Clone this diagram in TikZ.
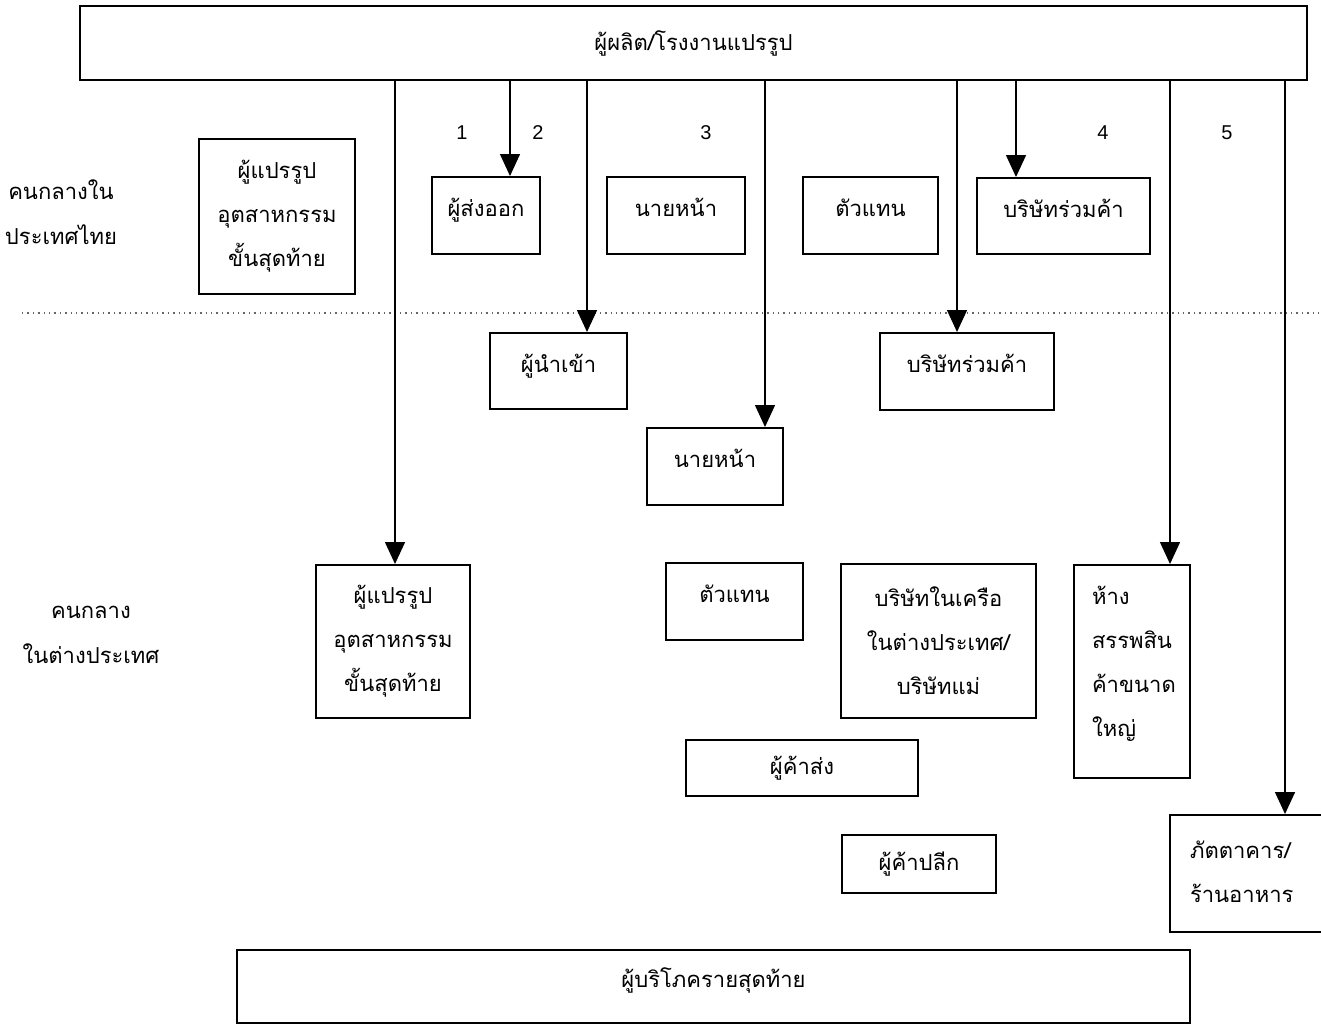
\documentclass[tikz,border=0pt]{standalone}
\usepackage{fontspec}
\setmainfont{Liberation Sans}
\newfontfamily\thaifont[Script=Thai]{Loma}
\usetikzlibrary{arrows.meta}
\begin{document}
\begin{tikzpicture}[x=0.5pt,y=-0.5pt,
  box/.style={draw, line width=1pt, inner sep=0pt, align=center,
    font=\thaifont\fontsize{11}{22}\selectfont},
  hi/.style={text height=8pt, text depth=7pt},
  lbl/.style={inner sep=0pt, align=center, font=\thaifont\fontsize{11}{22.5}\selectfont},
  num/.style={inner sep=0pt, font=\fontsize{10}{12}\selectfont},
  link/.style={line width=0.7pt, -{Triangle[length=11pt,width=10pt]}},
  sep/.style={gray!80!black, dotted, line width=0.7pt}]
\clip (0,0) rectangle (1321,1025);

% producer / processing plant
\node[box, minimum width=613.5pt, minimum height=37pt] (top) at (693.5,43) {ผู้ผลิต/โรงงานแปรรูป};

% intermediaries in Thailand
\node[lbl] (thl) at (61,212) {คนกลางใน\\ประเทศไทย};
\node[box, minimum width=78pt, minimum height=77.5pt] (tproc) at (277,216.5) {ผู้แปรรูป\\อุตสาหกรรม\\ขั้นสุดท้าย};
\node[box, hi, minimum width=54pt, minimum height=38.5pt] (exp) at (486,215.5) {ผู้ส่งออก};
\node[box, hi, minimum width=69pt, minimum height=38.5pt] (tbrk) at (676,215.5) {นายหน้า};
\node[box, hi, minimum width=67.5pt, minimum height=38.5pt] (tagt) at (870.5,215.5) {ตัวแทน};
\node[box, hi, minimum width=86.5pt, minimum height=38pt] (tjv) at (1063.5,216) {บริษัทร่วมค้า};

% border between domestic and foreign
\coordinate (sepL) at (22,313);
\coordinate (sepR) at (1321,313);
\draw[sep] (sepL) -- (sepR);

% intermediaries abroad
\node[lbl] (fgl) at (91,634.5) {คนกลาง\\ในต่างประเทศ};
\node[box, hi, minimum width=68.5pt, minimum height=38pt] (imp) at (558.5,371) {ผู้นำเข้า};
\node[box, hi, minimum width=87pt, minimum height=38.5pt] (fjv) at (967,371.5) {บริษัทร่วมค้า};
\node[box, hi, minimum width=68pt, minimum height=38.5pt] (fbrk) at (715,466.5) {นายหน้า};
\node[box, minimum width=77pt, minimum height=76.5pt] (fproc) at (393,641.5) {ผู้แปรรูป\\อุตสาหกรรม\\ขั้นสุดท้าย};
\node[box, hi, minimum width=68.5pt, minimum height=38.5pt] (fagt) at (734.5,601.5) {ตัวแทน};
\node[box, minimum width=97.5pt, minimum height=77pt] (sub) at (938.5,641) {บริษัทในเครือ\\ในต่างประเทศ/\\บริษัทแม่};
\node[box, align=left, inner xsep=9pt, text width=40pt, text depth=76pt, minimum height=106.5pt] (dept) at (1132,671.5) {ห้าง\\สรรพสิน\\ค้าขนาด\\ใหญ่};
\node[box, minimum width=116pt, minimum height=28pt] (whole) at (802,768) {ผู้ค้าส่ง};
\node[box, minimum width=77pt, minimum height=29pt] (retail) at (919,864) {ผู้ค้าปลีก};
\node[box, align=left, inner xsep=10pt, text width=62.5pt, text depth=23.5pt, minimum height=58.5pt] (rest) at (1252.5,873.5) {ภัตตาคาร/\\ร้านอาหาร};

% final consumer
\node[box, hi, minimum width=476.5pt, minimum height=36.5pt] (cons) at (713.5,986.5) {ผู้บริโภครายสุดท้าย};

% channel numbers
\node[num] (n1) at (462,133) {1};
\node[num] (n2) at (538,133) {2};
\node[num] (n3) at (706,133) {3};
\node[num] (n4) at (1103,133) {4};
\node[num] (n5) at (1227,133) {5};

% channels leaving the producer
\coordinate (s1) at (395,80);
\coordinate (s2) at (510,80);
\coordinate (s3) at (587,80);
\coordinate (s4) at (765,80);
\coordinate (s5) at (957,80);
\coordinate (s6) at (1016,80);
\coordinate (s7) at (1170,80);
\coordinate (s8) at (1285,80);
\draw[link] (s1) -- (s1 |- fproc.north);
\draw[link] (s2) -- (s2 |- exp.north);
\draw[link] (s3) -- (s3 |- imp.north);
\draw[link] (s4) -- (s4 |- fbrk.north);
\draw[link] (s5) -- (s5 |- fjv.north);
\draw[link] (s6) -- (s6 |- tjv.north);
\draw[link] (s7) -- (s7 |- dept.north);
\draw[link] (s8) -- (s8 |- rest.north);
\end{tikzpicture}
\end{document}
